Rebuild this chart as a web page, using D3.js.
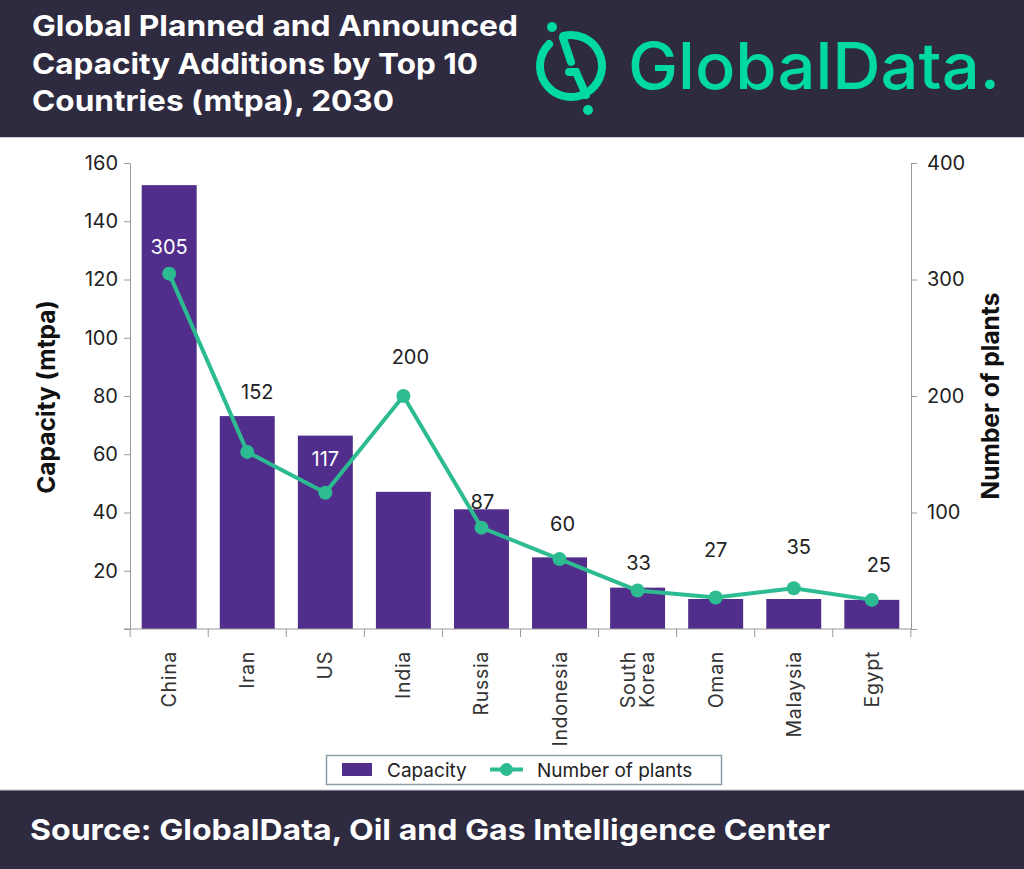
<!DOCTYPE html>
<html>
<head>
<meta charset="utf-8">
<script src="https://cdn.jsdelivr.net/npm/d3@7"></script>
<style>
  body { margin: 0; background: #fff; }
  svg { display: block; font-family: Inter, "Noto Sans", sans-serif; }
</style>
</head>
<body>
<div id="chart"></div>
<script>
const countries = ['China', 'Iran', 'US', 'India', 'Russia', 'Indonesia', 'South Korea', 'Oman', 'Malaysia', 'Egypt'];
const capacity = [152.4, 73.1, 66.4, 47.1, 41.1, 24.6, 14.2, 10.3, 10.3, 10.0];
const plants = [305, 152, 117, 200, 87, 60, 33, 27, 35, 25];
const leftTicks = [0, 20, 40, 60, 80, 100, 120, 140, 160];
const rightTicks = [0, 100, 200, 300, 400];
const titleLines = ['Global Planned and Announced', 'Capacity Additions by Top 10', 'Countries (mtpa), 2030'];
const sourceText = 'Source: GlobalData, Oil and Gas Intelligence Center';

const W = 1024, H = 869;
const dark = '#2e2a3f';
const purple = '#512e8c';
const teal = '#2dbb92';
const brand = '#00d99f';

const svg = d3.select('#chart').append('svg')
  .attr('width', W)
  .attr('height', H);

// header + footer bands
svg.append('rect').attr('x', 0).attr('y', 0).attr('width', W).attr('height', 137).attr('fill', dark);
svg.append('line').attr('x1', 0).attr('x2', W).attr('y1', 137.5).attr('y2', 137.5).attr('stroke', '#c9c9d0');
svg.append('rect').attr('x', 0).attr('y', 790).attr('width', W).attr('height', H - 790).attr('fill', dark);
svg.append('line').attr('x1', 0).attr('x2', W).attr('y1', 790).attr('y2', 790).attr('stroke', '#c9c9d0');

const titleWidths = [486, 446, 362];
svg.append('g').selectAll('text')
  .data(titleLines)
  .join('text')
  .attr('x', 32)
  .attr('y', (d, i) => 36 + i * 37.5)
  .attr('fill', '#fff')
  .attr('font-size', 28)
  .attr('font-weight', 700)
  .attr('textLength', (d, i) => titleWidths[i])
  .attr('lengthAdjust', 'spacingAndGlyphs')
  .text(d => d);

svg.append('text')
  .attr('x', 30)
  .attr('y', 840)
  .attr('fill', '#fff')
  .attr('font-size', 29)
  .attr('font-weight', 700)
  .attr('textLength', 800)
  .attr('lengthAdjust', 'spacingAndGlyphs')
  .text(sourceText);

// logo
const logo = svg.append('g').attr('fill', 'none').attr('stroke', brand).attr('stroke-width', 8).attr('stroke-linecap', 'round');
const rad = a => a * Math.PI / 180;
[[-14, 142], [159, 315]].forEach(([a0, a1]) => {
  const p = d3.path();
  p.arc(571, 66, 31, rad(a0 - 90), rad(a1 - 90));
  logo.append('path').attr('d', p.toString());
});
logo.append('path').attr('d', 'M563,38 L571,62');
logo.append('path').attr('d', 'M569,72 L576,72 L586,95');
svg.append('circle').attr('cx', 552).attr('cy', 27).attr('r', 5).attr('fill', brand);
svg.append('circle').attr('cx', 588).attr('cy', 110).attr('r', 5).attr('fill', brand);
svg.append('text')
  .attr('x', 628)
  .attr('y', 89)
  .attr('fill', brand)
  .attr('font-size', 64)
  .attr('font-weight', 500)
  .attr('textLength', 372)
  .attr('lengthAdjust', 'spacingAndGlyphs')
  .text('GlobalData.');

// scales
const x = d3.scaleBand().domain(countries).range([130, 911]).paddingInner(0.296).paddingOuter(0.15);
const yL = d3.scaleLinear().domain([0, 160]).range([629, 163]);
const yR = d3.scaleLinear().domain([0, 400]).range([629, 163]);

// bars
svg.append('g').selectAll('rect')
  .data(countries)
  .join('rect')
  .attr('x', d => x(d))
  .attr('y', (d, i) => yL(capacity[i]))
  .attr('width', x.bandwidth())
  .attr('height', (d, i) => yL(0) - yL(capacity[i]))
  .attr('fill', purple);

// axes
const axisL = svg.append('g')
  .attr('transform', 'translate(130,0)')
  .call(d3.axisLeft(yL).tickValues(leftTicks).tickSize(6).tickSizeOuter(0).tickPadding(6)
    .tickFormat(d => d === 0 ? '' : d));
const axisR = svg.append('g')
  .attr('transform', 'translate(911,0)')
  .call(d3.axisRight(yR).tickValues(rightTicks).tickSize(6).tickSizeOuter(0).tickPadding(10)
    .tickFormat(d => d === 0 ? '' : d));
[axisL, axisR].forEach(g => {
  g.selectAll('path, line').attr('stroke', '#9a9a9a');
  g.selectAll('text').attr('font-size', 20).attr('fill', '#222').attr('font-family', 'Inter, sans-serif');
});

// bottom axis with ticks between categories
const step = x.step();
const first = x(countries[0]) + x.bandwidth() / 2 - step / 2;
const bottom = svg.append('g').attr('stroke', '#9a9a9a');
bottom.append('line').attr('x1', 124).attr('x2', 911).attr('y1', 629).attr('y2', 629);
bottom.selectAll('line.tick')
  .data(d3.range(countries.length + 1))
  .join('line')
  .attr('class', 'tick')
  .attr('x1', i => first + i * step)
  .attr('x2', i => first + i * step)
  .attr('y1', 629)
  .attr('y2', 637);

// category labels, rotated
const catG = svg.append('g')
  .attr('font-size', 19.5)
  .attr('fill', '#333')
  .attr('letter-spacing', 0.7);
countries.forEach(c => {
  const parts = c.split(' ');
  const cx = x(c) + x.bandwidth() / 2;
  parts.forEach((p, j) => {
    const off = (j - (parts.length - 1) / 2) * 19;
    catG.append('text')
      .attr('transform', `translate(${cx + off},651) rotate(-90)`)
      .attr('text-anchor', 'end')
      .attr('dy', '0.36em')
      .text(p);
  });
});

// axis titles
svg.append('text')
  .attr('transform', 'translate(55,397) rotate(-90)')
  .attr('text-anchor', 'middle')
  .attr('font-size', 24.5)
  .attr('font-weight', 700)
  .attr('fill', '#111')
  .text('Capacity (mtpa)');
svg.append('text')
  .attr('transform', 'translate(999,396) rotate(-90)')
  .attr('text-anchor', 'middle')
  .attr('font-size', 24.5)
  .attr('font-weight', 700)
  .attr('fill', '#111')
  .text('Number of plants');

// plants line
const cxOf = (d, i) => x(countries[i]) + x.bandwidth() / 2;
const line = d3.line().x(cxOf).y(d => yR(d));
svg.append('path')
  .datum(plants)
  .attr('d', line)
  .attr('fill', 'none')
  .attr('stroke', teal)
  .attr('stroke-width', 4)
  .attr('stroke-linejoin', 'round');
svg.append('g').selectAll('circle')
  .data(plants)
  .join('circle')
  .attr('cx', cxOf)
  .attr('cy', d => yR(d))
  .attr('r', 7)
  .attr('fill', teal);

// value labels (hand nudged like the original)
const labelNudge = [[0, -20], [10, -53], [0, -27], [7, -32], [1, -19], [3, -28], [1, -21], [0, -41], [5, -34], [7, -28]];
svg.append('g').selectAll('text')
  .data(plants)
  .join('text')
  .attr('x', (d, i) => cxOf(d, i) + labelNudge[i][0])
  .attr('y', (d, i) => yR(d) + labelNudge[i][1])
  .attr('text-anchor', 'middle')
  .attr('font-size', 20)
  .attr('fill', (d, i) => (yR(d) + labelNudge[i][1] - 14 > yL(capacity[i])) ? '#fff' : '#222')
  .text(d => d);

// legend
const lg = svg.append('g');
lg.append('rect').attr('x', 326.5).attr('y', 755.5).attr('width', 395).attr('height', 29)
  .attr('fill', '#fff').attr('stroke', '#8e9ca6').attr('stroke-width', 1.5);
lg.append('rect').attr('x', 342).attr('y', 763).attr('width', 30).attr('height', 13).attr('fill', purple);
lg.append('text').attr('x', 387).attr('y', 776.5).attr('font-size', 19).attr('fill', '#222').text('Capacity');
lg.append('line').attr('x1', 490).attr('x2', 523).attr('y1', 769.5).attr('y2', 769.5)
  .attr('stroke', teal).attr('stroke-width', 4);
lg.append('circle').attr('cx', 506.5).attr('cy', 769.5).attr('r', 6.5).attr('fill', teal);
lg.append('text').attr('x', 537).attr('y', 776.5).attr('font-size', 19).attr('fill', '#222').text('Number of plants');
</script>
</body>
</html>
